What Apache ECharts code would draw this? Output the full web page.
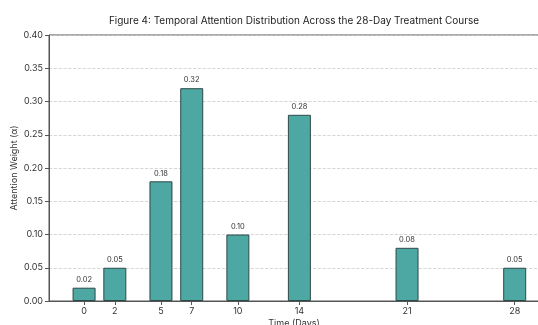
<!DOCTYPE html>
<html><head><meta charset="utf-8">
<script src="https://cdn.jsdelivr.net/npm/echarts@6/dist/echarts.min.js"></script>
<style>html,body{margin:0;padding:0;background:#fff}#c{width:538px;height:325px}</style>
</head><body><div id="c"></div>
<script>
const days = [0, 2, 5, 7, 10, 14, 21, 28];
const weights = [0.02, 0.05, 0.18, 0.32, 0.10, 0.28, 0.08, 0.05];
const yTicks = [0, 0.05, 0.10, 0.15, 0.20, 0.25, 0.30, 0.35, 0.40];
const titleText = 'Figure 4: Temporal Attention Distribution Across the 28-Day Treatment Course';
const FONT = 'Inter';
const chart = echarts.init(document.getElementById('c'), null, {renderer: 'canvas'});
chart.setOption({
  animation: false,
  textStyle: {fontFamily: FONT},
  title: {text: titleText, left: 289, top: 11, textAlign: 'center',
    textStyle: {fontSize: 10, fontWeight: 'normal', color: '#222', fontFamily: FONT}},
  grid: {left: 49, right: -1, top: 35, bottom: 24, outerBoundsMode: 'none', containLabel: false,
    show: true, borderColor: '#555', borderWidth: 1},
  xAxis: {type: 'value', min: -2.28, max: 29.58,
    name: 'Time (Days)', nameLocation: 'middle', nameGap: 17.5, nameMoveOverlap: false,
    nameTextStyle: {fontSize: 9, color: '#333', fontFamily: FONT},
    axisLine: {show: true, onZero: false, lineStyle: {color: '#555'}},
    axisTick: {show: true, length: 4, lineStyle: {color: '#555'}, customValues: days},
    axisLabel: {fontSize: 9, color: '#333', margin: 6, customValues: days, fontFamily: FONT},
    splitLine: {show: false}},
  yAxis: {type: 'value', min: 0, max: 0.4, interval: 0.05,
    name: 'Attention Weight (α)', nameLocation: 'middle', nameGap: 30, nameMoveOverlap: false,
    nameTextStyle: {fontSize: 9, color: '#333', fontFamily: FONT},
    axisLine: {show: true, onZero: false, lineStyle: {color: '#555'}},
    axisTick: {show: true, length: 4, lineStyle: {color: '#555'}},
    axisLabel: {fontSize: 9, color: '#333', margin: 6, fontFamily: FONT,
      formatter: v => v.toFixed(2)},
    splitLine: {show: true, lineStyle: {color: '#ccc', type: 'dashed', width: 0.8}}},
  series: [{
    type: 'bar', barWidth: 23,
    data: days.map((d, i) => [d, weights[i]]),
    itemStyle: {color: '#4da7a3', borderColor: '#2e4a48', borderWidth: 1},
    label: {show: true, position: 'top', distance: 4, fontSize: 7.5, color: '#333', fontFamily: FONT,
      formatter: p => p.value[1].toFixed(2)}
  }]
});
</script></body></html>
